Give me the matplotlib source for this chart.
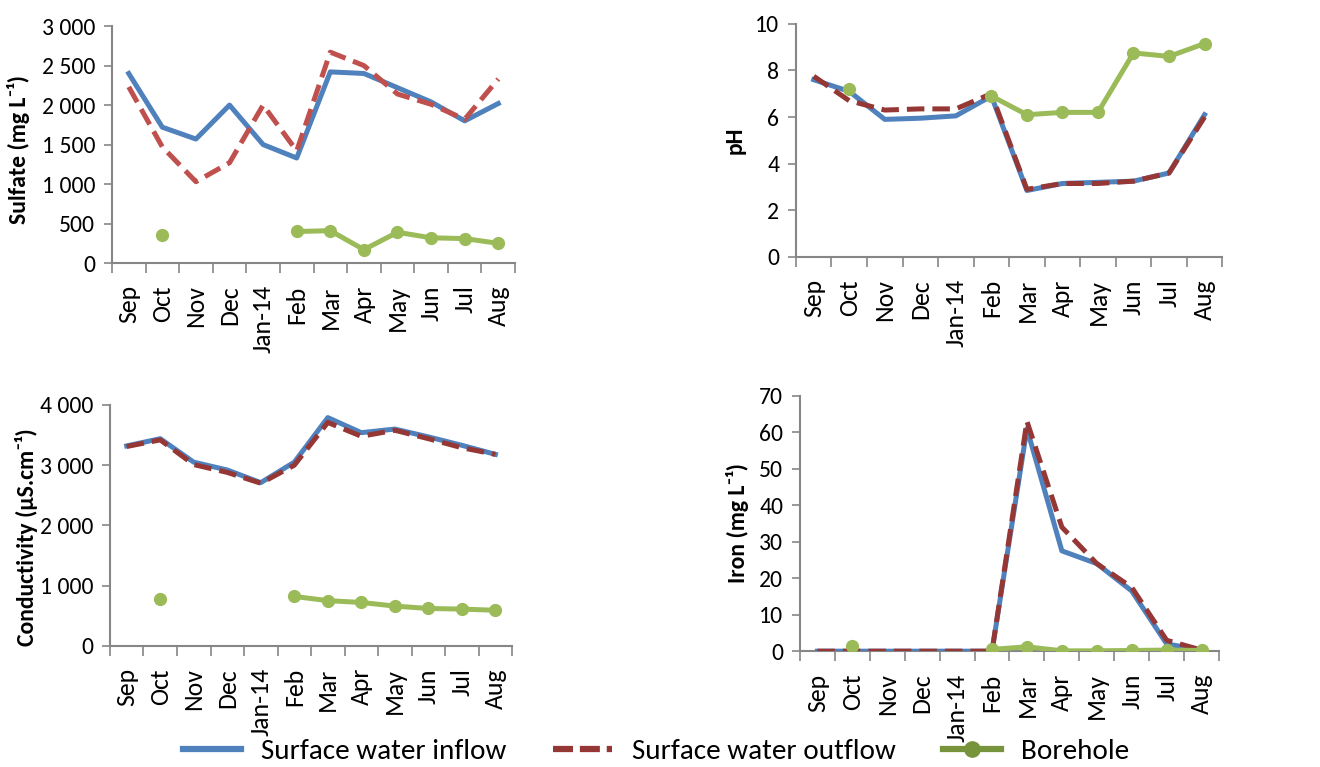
import numpy as np
import matplotlib
matplotlib.use('Agg')
from matplotlib import pyplot as plt
from matplotlib import font_manager
from matplotlib.lines import Line2D
from matplotlib.ticker import FuncFormatter

nan = np.nan

months = ['Sep', 'Oct', 'Nov', 'Dec', 'Jan-14', 'Feb', 'Mar', 'Apr', 'May', 'Jun', 'Jul', 'Aug']

# sulfate (mg/L)
sulfate_in = [2400, 1720, 1570, 2000, 1500, 1330, 2420, 2400, 2220, 2040, 1800, 2020]
sulfate_out = [2230, 1470, 1030, 1270, 2000, 1420, 2670, 2500, 2140, 2010, 1820, 2330]
sulfate_bh = [nan, 350, nan, nan, nan, 400, 410, 170, 390, 320, 310, 250]

# pH
ph_in = [7.6, 7.1, 5.9, 5.95, 6.05, 6.9, 2.85, 3.15, 3.2, 3.25, 3.6, 6.1]
ph_out = [7.75, 6.7, 6.3, 6.35, 6.35, 7.0, 2.9, 3.15, 3.15, 3.25, 3.6, 6.0]
ph_bh = [nan, 7.2, nan, nan, nan, 6.9, 6.1, 6.2, 6.2, 8.75, 8.6, 9.15]

# conductivity (uS/cm)
cond_in = [3320, 3440, 3050, 2920, 2710, 3050, 3790, 3540, 3600, 3470, 3330, 3180]
cond_out = [3310, 3420, 3010, 2880, 2700, 3000, 3710, 3480, 3580, 3440, 3290, 3180]
cond_bh = [nan, 780, nan, nan, nan, 820, 750, 720, 660, 620, 610, 590]

# iron (mg/L)
iron_in = [0, 0, 0, 0, 0, 0, 61, 27.5, 24, 16.5, 2, 0.3]
iron_out = [0, 0, 0, 0, 0, 0, 63, 34, 24, 17.5, 3, 0.3]
iron_bh = [nan, 1.5, nan, nan, nan, 0.5, 1.2, 0.1, 0.1, 0.2, 0.3, 0.2]

BLUE = '#4F81BD'
RED = '#C0504D'
DARKRED = '#953735'
GREEN = '#9BBB59'
DARKGREEN = '#77933C'
GREY = '#868686'

# calibri look-alike if there is one
installed = {f.name for f in font_manager.fontManager.ttflist}
if 'Carlito' in installed:
    MAIN, scale = 'Carlito', 1.0
else:
    MAIN, scale = 'Lato', 0.92
FONT = [MAIN, 'DejaVu Sans']


def space_thousands(v, pos):
    return '{:,.0f}'.format(v).replace(',', ' ')


def draw_panel(rect, inflow, outflow, bore, ylim, step, ylabel, label_pos, out_color, thousands=False):
    ax = fig.add_axes(rect)
    x = np.arange(len(months))
    ax.plot(x, inflow, color=BLUE, lw=3.6, zorder=3)
    ax.plot(x, outflow, color=out_color, lw=3.6, dashes=(3.5, 1.6), zorder=4)
    ax.plot(x, bore, color=GREEN, lw=3.6, marker='o', markersize=8.5, zorder=5)

    ax.set_xlim(-0.5, len(months) - 0.5)
    ax.set_ylim(*ylim)
    ax.set_yticks(np.arange(ylim[0], ylim[1] + step / 2, step))
    if thousands:
        ax.yaxis.set_major_formatter(FuncFormatter(space_thousands))
    ax.set_xticks(x)
    ax.set_xticklabels(months, rotation=90, family=FONT, fontsize=18.5 * scale)
    ax.set_xticks(np.arange(-0.5, len(months)), minor=True)
    ax.tick_params(axis='x', which='major', length=0, pad=16)
    ax.tick_params(axis='x', which='minor', length=7, width=1.2, color=GREY, direction='out')
    ax.tick_params(axis='y', length=6, width=1.2, color=GREY, direction='out', pad=6,
                   labelsize=17 * scale, labelfontfamily=MAIN)

    for s in ['top', 'right']:
        ax.spines[s].set_visible(False)
    for s in ['left', 'bottom']:
        ax.spines[s].set_color(GREY)
        ax.spines[s].set_linewidth(1.5)

    ax.set_ylabel(ylabel, family=FONT, fontweight='bold', fontsize=17 * scale, va='center')
    ax.yaxis.set_label_coords(*label_pos)
    return ax


fig = plt.figure(figsize=(13.2, 7.67), dpi=100)

draw_panel([0.0848, 0.657, 0.3054, 0.309], sulfate_in, sulfate_out, sulfate_bh,
           (0, 3000), 500, 'Sulfate (mg L\u207b\u00b9)', (-0.232, 0.48), RED, thousands=True)
draw_panel([0.603, 0.665, 0.323, 0.304], ph_in, ph_out, ph_bh,
           (0, 10), 2, 'pH', (-0.143, 0.5), DARKRED)
draw_panel([0.0833, 0.158, 0.3047, 0.314], cond_in, cond_out, cond_bh,
           (0, 4000), 1000, 'Conductivity (\u00b5S.cm\u207b\u00b9)', (-0.208, 0.45), DARKRED, thousands=True)
draw_panel([0.606, 0.151, 0.3175, 0.333], iron_in, iron_out, iron_bh,
           (0, 70), 10, 'Iron (mg L\u207b\u00b9)', (-0.15, 0.5), DARKRED)

handles = [
    Line2D([], [], color=BLUE, lw=4.5),
    Line2D([], [], color=DARKRED, lw=4.5, dashes=(3.2, 1.1)),
    Line2D([], [], color=DARKGREEN, lw=4.5, marker='o', markersize=11),
]
labels = ['Surface water inflow', 'Surface water outflow', 'Borehole']
fig.legend(handles, labels, loc='center', bbox_to_anchor=(0.497, 0.02), ncol=3,
           frameon=False, prop={'family': FONT, 'size': 21 * scale},
           handlelength=2.0, handletextpad=0.7, columnspacing=1.6)

fig.savefig('out.png', dpi=100)
